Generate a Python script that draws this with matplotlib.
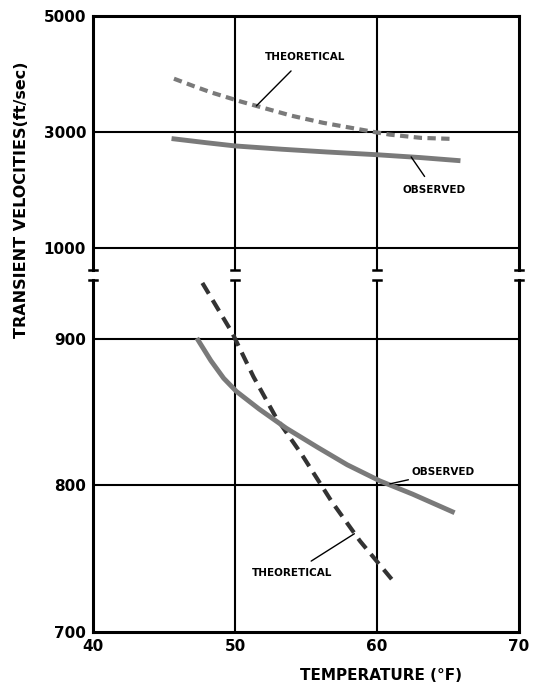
import numpy as np
import matplotlib.pyplot as plt

# lecturas de la figura (temperatura en °F, velocidad en ft/sec)
temp_teo_sup = [45.7, 47.1, 48.3, 50.4, 51.7, 54.0, 56.2, 58.5, 59.8, 60.9, 63.1, 65.2]
vel_teo_sup = [3920, 3791, 3685, 3526, 3437, 3280, 3159, 3058, 3000, 2955, 2899, 2882]
temp_obs_sup = [45.7, 48.0, 50.0, 53.3, 56.5, 60.0, 63.0, 65.7]
vel_obs_sup = [2882, 2815, 2760, 2703, 2655, 2608, 2560, 2508]

temp_teo_inf = [47.7, 49.8, 51.3, 52.9, 54.7, 56.8, 58.8, 61.2]
vel_teo_inf = [938, 904, 874, 846, 821, 789, 762, 734]
temp_obs_inf = [47.4, 48.3, 49.2, 50.1, 51.7, 53.6, 55.8, 57.9, 60.2, 62.5, 65.3]
vel_obs_inf = [899, 885, 873, 864, 852, 839, 826, 814, 803, 794, 782]

xticks = [40, 50, 60, 70]
yticks_sup = [1000, 3000, 5000]
yticks_inf = [700, 800, 900]

plt.rcParams['font.family'] = 'DejaVu Sans'
plt.rcParams['font.weight'] = 'bold'

fig = plt.figure(figsize=(5.36, 6.88), dpi=100)
ax1 = fig.add_axes([0.1735, 0.6076, 0.795, 0.369])
ax2 = fig.add_axes([0.1735, 0.0814, 0.795, 0.5116])

gris = '#7a7a7a'
for ax in (ax1, ax2):
    ax.set_xlim(40, 70)
    for x in (50, 60):
        ax.axvline(x, color='black', lw=1.5, zorder=1)
    for s in ('left', 'right', 'top', 'bottom'):
        ax.spines[s].set_linewidth(2.2)
    ax.tick_params(length=0, labelsize=11, pad=5)

ax1.set_ylim(620, 5000)
ax1.set_yticks(yticks_sup)
ax1.set_xticks([])
ax1.spines['bottom'].set_visible(False)
for y in (1000, 3000):
    ax1.axhline(y, color='black', lw=1.5, zorder=1)

ax2.set_ylim(700, 940)
ax2.set_yticks(yticks_inf)
ax2.set_xticks(xticks)
ax2.spines['top'].set_visible(False)
for y in (800, 900):
    ax2.axhline(y, color='black', lw=1.5, zorder=1)

for lab in ax1.get_yticklabels() + ax2.get_yticklabels() + ax2.get_xticklabels():
    lab.set_fontweight('bold')

# curvas
ax1.plot(temp_teo_sup, vel_teo_sup, color=gris, lw=3, dashes=(2.0, 1.3), zorder=3)
ax1.plot(temp_obs_sup, vel_obs_sup, color=gris, lw=3.5, zorder=3)
ax2.plot(temp_teo_inf, vel_teo_inf, color='#333333', lw=3, dashes=(3.0, 1.8), zorder=3)
ax2.plot(temp_obs_inf, vel_obs_inf, color=gris, lw=3.5, zorder=3)

# marcas de corte del eje
for x in xticks:
    ax1.plot([x - 0.3, x + 0.3], [620, 620], color='black', lw=1.8, clip_on=False)
    ax2.plot([x - 0.3, x + 0.3], [940, 940], color='black', lw=1.8, clip_on=False)

# etiquetas
kw = dict(fontsize=7.5, fontweight='bold')
ax1.annotate('THEORETICAL', xy=(51.5, 3450), xytext=(54.9, 4290), ha='center', va='center',
             arrowprops=dict(arrowstyle='-', color='black', lw=1, shrinkB=0, shrinkA=6), **kw)
ax1.annotate('OBSERVED', xy=(62.4, 2570), xytext=(64.0, 2000), ha='center', va='center',
             arrowprops=dict(arrowstyle='-', color='black', lw=1, shrinkB=0, shrinkA=5), **kw)
ax2.annotate('OBSERVED', xy=(60.9, 801), xytext=(62.4, 809), ha='left', va='center',
             arrowprops=dict(arrowstyle='-', color='black', lw=1, shrinkB=0, shrinkA=0), **kw)
ax2.annotate('THEORETICAL', xy=(58.4, 767), xytext=(54.0, 740), ha='center', va='center',
             arrowprops=dict(arrowstyle='-', color='black', lw=1, shrinkB=0, shrinkA=6), **kw)

fig.text(0.04, 0.71, 'TRANSIENT VELOCITIES(ft/sec)', rotation=90, ha='center', va='center',
         fontsize=11.5, fontweight='bold')
fig.text(0.71, 0.018, 'TEMPERATURE (°F)', ha='center', va='center', fontsize=11, fontweight='bold')

fig.savefig('out.png', dpi=100)
